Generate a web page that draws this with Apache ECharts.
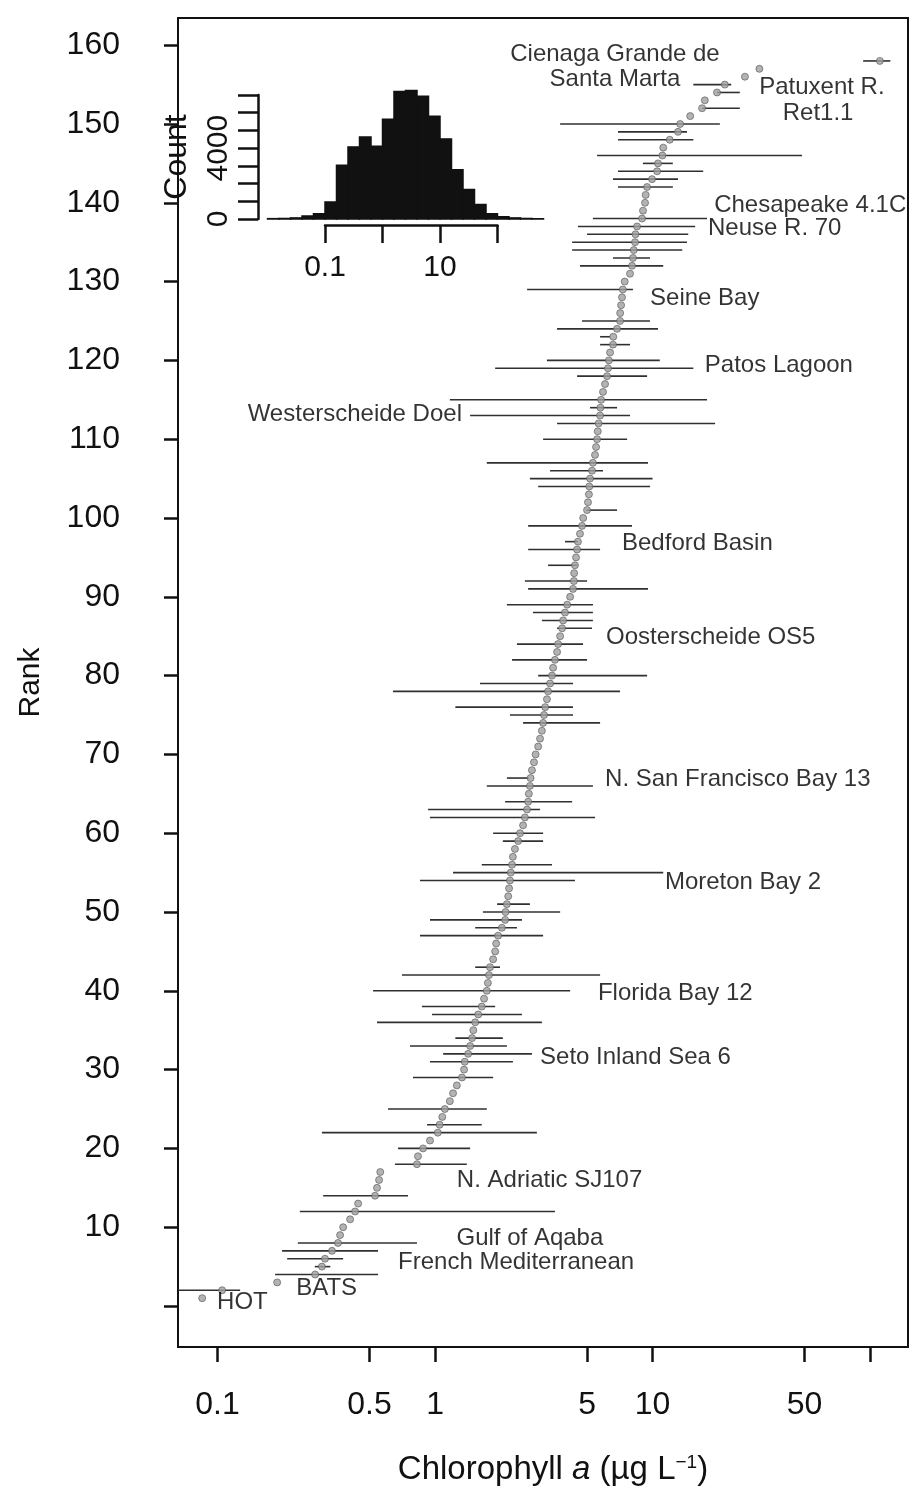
<!DOCTYPE html>
<html><head><meta charset="utf-8">
<script src="https://cdn.jsdelivr.net/npm/echarts@6/dist/echarts.min.js"></script>
<style>html,body{margin:0;padding:0;background:#fff}#c{width:916px;height:1493px}</style>
</head><body><div id="c"></div>
<script>
// Median chlorophyll a of each site, in rank order (rank 1 = lowest)
const medians = [
  0.085, 0.105, 0.188, 0.281, 0.302, 0.312, 0.336, 0.358, 0.366, 0.378,
  0.407, 0.429, 0.443, 0.530, 0.541, 0.553, 0.56, 0.826, 0.835, 0.881,
  0.948, 1.03, 1.05, 1.08, 1.11, 1.17, 1.21, 1.26, 1.33, 1.36,
  1.37, 1.42, 1.45, 1.48, 1.50, 1.53, 1.58, 1.64, 1.68, 1.73,
  1.75, 1.77, 1.79, 1.85, 1.89, 1.91, 1.95, 2.03, 2.10, 2.11,
  2.14, 2.17, 2.19, 2.21, 2.23, 2.26, 2.28, 2.33, 2.41, 2.46,
  2.54, 2.59, 2.65, 2.68, 2.70, 2.73, 2.75, 2.79, 2.85, 2.90,
  2.98, 3.04, 3.10, 3.14, 3.17, 3.21, 3.27, 3.31, 3.38, 3.45,
  3.49, 3.56, 3.64, 3.68, 3.76, 3.84, 3.88, 3.96, 4.05, 4.18,
  4.31, 4.35, 4.36, 4.40, 4.45, 4.50, 4.54, 4.64, 4.74, 4.80,
  5.00, 5.05, 5.10, 5.12, 5.16, 5.27, 5.32, 5.44, 5.50, 5.56,
  5.60, 5.65, 5.74, 5.76, 5.80, 5.92, 6.05, 6.18, 6.24, 6.30,
  6.38, 6.58, 6.60, 6.87, 7.09, 7.10, 7.17, 7.24, 7.30, 7.45,
  7.88, 8.05, 8.13, 8.20, 8.31, 8.35, 8.49, 8.95, 9.04, 9.24,
  9.30, 9.44, 9.95, 10.5, 10.6, 11.1, 11.2, 12.0, 13.1, 13.4,
  14.9, 16.9, 17.4, 19.8, 21.5, 26.6, 31.0, 111
];
// Ranks with a visible range line, and the range ends
const barRanks = [2,4,5,6,7,8,12,14,18,20,22,23,25,29,31,32,33,34,36,37,38,40,42,43,47,48,49,50,51,54,55,56,59,60,62,63,64,66,67,74,75,76,78,79,80,82,84,86,87,88,89,91,92,94,96,97,99,101,104,105,106,107,110,112,113,114,115,118,119,120,122,123,124,125,129,132,133,134,135,136,137,138,142,143,144,145,146,148,149,150,152,154,155,158];
const barLow  = [0.065,0.184,0.28,0.209,0.198,0.234,0.239,0.306,0.655,0.676,0.302,0.919,0.608,0.792,0.948,1.09,0.767,1.24,0.541,0.969,0.871,0.519,0.705,1.53,0.853,1.53,0.948,1.66,1.93,0.853,1.21,1.64,2.05,1.85,0.948,0.929,2.10,1.73,2.14,2.54,2.21,1.24,0.641,1.61,2.98,2.26,2.38,3.64,3.10,2.82,2.14,2.68,2.59,3.31,2.68,3.96,2.68,4.95,2.98,2.73,3.38,1.73,3.14,3.64,1.45,5.16,1.17,4.50,1.89,3.27,5.74,5.74,3.64,4.74,2.65,4.64,6.58,4.27,4.27,5.00,4.54,5.32,6.94,6.58,6.94,9.04,5.56,6.94,6.94,3.76,16.9,19.8,15.4,93];
const barHigh = [0.127,0.547,0.33,0.378,0.547,0.826,3.56,0.751,1.40,1.45,2.94,1.64,1.73,1.85,2.28,2.79,2.14,2.05,3.10,2.51,1.89,4.18,5.74,1.99,3.14,2.38,2.51,3.76,2.73,4.40,11.2,3.45,3.14,3.14,5.44,3.04,4.27,5.32,2.70,5.74,4.31,4.31,7.09,4.31,9.44,5.00,4.79,5.27,5.32,5.32,5.32,9.53,5.00,4.50,5.74,4.54,8.05,6.87,9.74,10.0,5.92,9.53,7.64,19.4,7.88,6.87,17.8,9.44,15.4,10.8,7.88,6.38,10.6,9.74,8.13,11.2,9.74,13.7,14.4,14.6,15.7,17.8,12.4,13.1,17.1,12.4,48.7,15.4,14.4,20.4,25.2,25.2,23.0,124];
// Site annotations: name, chlorophyll position, rank position, text alignment
const siteNames  = ['Cienaga Grande de','Santa Marta','Patuxent R.','Ret1.1','Chesapeake 4.1C','Neuse R. 70','Seine Bay','Patos Lagoon','Westerscheide Doel','Bedford Basin','Oosterscheide OS5','N. San Francisco Bay 13','Moreton Bay 2','Florida Bay 12','Seto Inland Sea 6','N. Adriatic SJ107','Gulf of Aqaba','French Mediterranean','BATS','HOT'];
const siteChl    = [6.72, 6.72, 60.1, 57.7, 19.2, 18.0, 9.74, 17.4, 1.33, 7.24, 6.11, 6.05, 11.4, 5.61, 3.04, 1.26, 2.73, 0.676, 0.230, 0.0995];
const siteRank   = [158.8, 155.6, 154.6, 151.3, 139.7, 136.8, 127.9, 119.4, 113.1, 96.8, 84.8, 66.8, 53.8, 39.7, 31.6, 16.0, 8.6, 5.6, 2.3, 0.4];
const siteAlign  = ['center','center','center','center','left','left','left','left','right','left','left','left','left','left','left','left','center','left','left','left'];
// Inset histogram: bin edges (log10 of chlorophyll a) and counts
const histLogEdges = [-2.0,-1.8,-1.6,-1.4,-1.2,-1.0,-0.8,-0.6,-0.4,-0.2,0.0,0.2,0.4,0.6,0.8,1.0,1.2,1.4,1.6,1.8,2.0,2.2,2.4,2.6,2.8];
const histCounts   = [20,30,60,170,300,960,3040,4070,4630,4110,5630,7200,7250,6930,5800,4520,2780,1670,815,300,120,60,30,15];
// Tick values
const xTicks = [0.1,0.5,1,5,10,50,100];
const xTickLabels = [0.1,0.5,1,5,10,50];
const yTicks = [0,10,20,30,40,50,60,70,80,90,100,110,120,130,140,150,160];
const yTickLabels = [10,20,30,40,50,60,70,80,90,100,110,120,130,140,150,160];
const insetXTickLabels = [0.1,10];
const insetYTicks = [0,1000,2000,3000,4000,5000,6000,7000];
const insetYTickLabels = [0,4000];

const FONT = 'Liberation Sans, Arial, sans-serif';
const chart = echarts.init(document.getElementById('c'), null, {renderer:'canvas'});

const medianData = medians.map((v,i)=>[v, i+1]);
const barData = barRanks.map((r,i)=>[barLow[i], barHigh[i], r]);
const histData = histCounts.map((c,i)=>[Math.pow(10,histLogEdges[i]), Math.pow(10,histLogEdges[i+1]), c]);
const labelData = siteNames.map((n,i)=>({
  name:n, value:[siteChl[i], siteRank[i]],
  label:{align: siteAlign[i]}
}));
const fmt = v => String(Math.round(v*10)/10);

chart.setOption({
  animation:false,
  backgroundColor:'#fff',
  grid:[
    {left:178, top:18, width:730, height:1329, show:true, borderColor:'#111', borderWidth:2, backgroundColor:'transparent'},
    {left:325, top:95, width:172.5, height:124}
  ],
  xAxis:[
    {type:'log', logBase:10, gridIndex:0, min:0.0658, max:149.5, position:'bottom',
     axisLine:{show:false, onZero:false}, splitLine:{show:false}, minorTick:{show:false},
     axisTick:{show:true, inside:false, length:15, lineStyle:{color:'#111', width:2.5}, customValues:xTicks},
     axisLabel:{customValues:xTickLabels, formatter:fmt, fontSize:32, color:'#111', fontFamily:FONT, margin:42},
     name:'Chlorophyll {i|a} (µg L{s|−1})', nameLocation:'middle', nameGap:106,
     nameTextStyle:{fontSize:33, color:'#111', fontFamily:FONT, padding:[0,0,0,20],
       rich:{i:{fontSize:33, fontStyle:'italic', fontFamily:FONT, color:'#111'},
             s:{fontSize:19, fontFamily:FONT, color:'#111', verticalAlign:'top', lineHeight:19, padding:[0,0,14,0]}}}
    },
    {type:'log', logBase:10, gridIndex:1, min:0.1, max:100, position:'bottom', offset:6,
     axisLine:{show:true, onZero:false, lineStyle:{color:'#111', width:2.5}}, splitLine:{show:false}, minorTick:{show:false},
     axisTick:{show:true, length:18, lineStyle:{color:'#111', width:2.5}},
     axisLabel:{customValues:insetXTickLabels, formatter:fmt, fontSize:30, color:'#111', fontFamily:FONT, margin:28}
    }
  ],
  yAxis:[
    {type:'value', gridIndex:0, min:-5.2, max:163.45,
     axisLine:{show:false, onZero:false}, splitLine:{show:false},
     axisTick:{show:true, length:14, lineStyle:{color:'#111', width:2.5}, customValues:yTicks},
     axisLabel:{customValues:yTickLabels, fontSize:32, color:'#111', fontFamily:FONT, margin:58},
     name:'Rank', nameLocation:'middle', nameRotate:90, nameGap:132,
     nameTextStyle:{fontSize:30, color:'#111', fontFamily:FONT}
    },
    {type:'value', gridIndex:1, min:0, max:7000, offset:67,
     axisLine:{show:true, onZero:false, lineStyle:{color:'#111', width:2.5}}, splitLine:{show:false},
     axisTick:{show:true, length:20, lineStyle:{color:'#111', width:2.5}, customValues:insetYTicks},
     axisLabel:{customValues:insetYTickLabels, formatter:v=>String(v), rotate:90, fontSize:30, color:'#111', fontFamily:FONT, margin:24},
     name:'Count', nameLocation:'middle', nameRotate:90, nameGap:65,
     nameTextStyle:{fontSize:32, color:'#111', fontFamily:FONT}
    }
  ],
  series:[
    {type:'custom', name:'range', xAxisIndex:0, yAxisIndex:0, clip:true, z:2,
     encode:{x:[0,1], y:2},
     data:barData,
     renderItem:(params, api)=>{
       const a = api.coord([api.value(0), api.value(2)]);
       const b = api.coord([api.value(1), api.value(2)]);
       return {type:'line', shape:{x1:a[0], y1:a[1], x2:b[0], y2:b[1]},
               style:{stroke:'#303030', lineWidth:1.6}};
     }},
    {type:'scatter', name:'median', xAxisIndex:0, yAxisIndex:0, z:3,
     data:medianData, symbol:'circle', symbolSize:7,
     itemStyle:{color:'#a0a0a0', borderColor:'#555', borderWidth:0.8}},
    {type:'scatter', name:'sites', xAxisIndex:0, yAxisIndex:0, z:4,
     data:labelData, symbolSize:0, silent:true,
     label:{show:true, position:'inside', formatter:'{b}', verticalAlign:'middle',
            fontSize:24, color:'#000', fontFamily:FONT}},
    {type:'custom', name:'hist', xAxisIndex:1, yAxisIndex:1, clip:false, z:2,
     encode:{x:[0,1], y:2},
     data:histData,
     renderItem:(params, api)=>{
       const a = api.coord([api.value(0), api.value(2)]);
       const b = api.coord([api.value(1), 0]);
       return {type:'rect', shape:{x:a[0], y:a[1], width:b[0]-a[0], height:b[1]-a[1]},
               style:{fill:'#111', stroke:'#111', lineWidth:1.5}};
     }}
  ]
});
</script></body></html>
